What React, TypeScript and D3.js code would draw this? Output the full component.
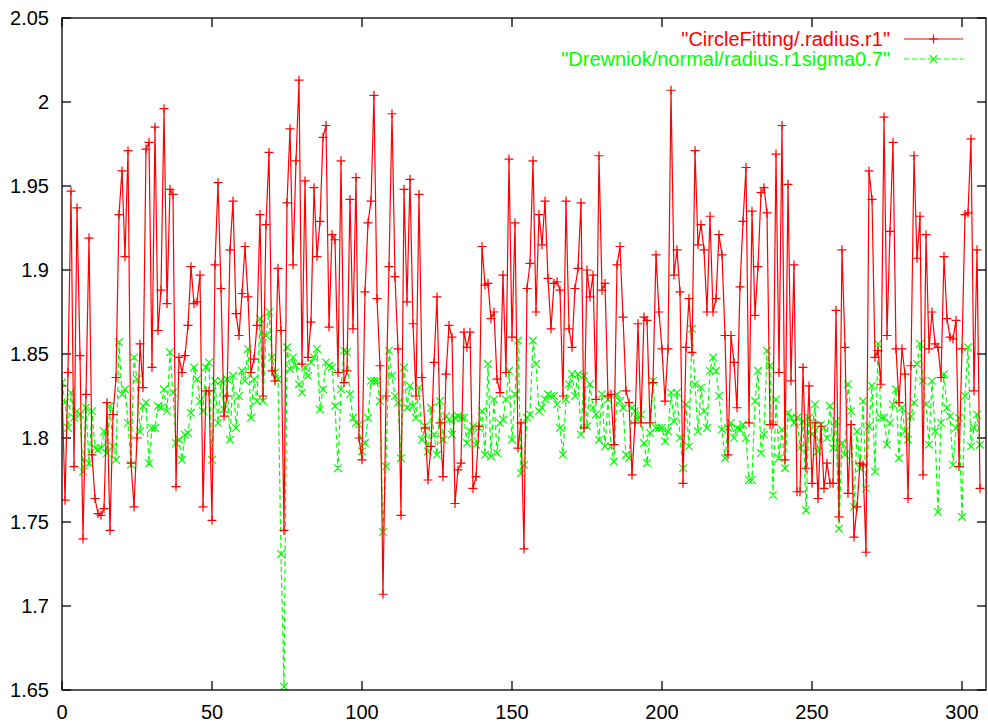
import React from "react";
import * as d3 from "d3";

const circleFitting: number[] = [
  1.831, 1.763, 1.839, 1.947, 1.783, 1.937, 1.849, 1.740, 1.826, 1.919,
  1.790, 1.764, 1.755, 1.754, 1.758, 1.821, 1.745, 1.814, 1.836, 1.933,
  1.959, 1.908, 1.971, 1.785, 1.759, 1.800, 1.856, 1.830, 1.972, 1.976,
  1.842, 1.985, 1.864, 1.888, 1.996, 1.880, 1.948, 1.945, 1.771, 1.848,
  1.839, 1.849, 1.867, 1.902, 1.880, 1.881, 1.897, 1.759, 1.828, 1.828,
  1.751, 1.903, 1.952, 1.889, 1.813, 1.825, 1.912, 1.941, 1.874, 1.861,
  1.886, 1.914, 1.884, 1.839, 1.847, 1.867, 1.933, 1.825, 1.927, 1.970,
  1.840, 1.834, 1.901, 1.864, 1.745, 1.940, 1.984, 1.903, 1.965, 2.013,
  1.844, 1.953, 1.848, 1.869, 1.949, 1.908, 1.929, 1.979, 1.986, 1.866,
  1.921, 1.918, 1.839, 1.965, 1.833, 1.840, 1.942, 1.865, 1.955, 1.800,
  1.787, 1.887, 1.928, 1.941, 2.004, 1.883, 1.843, 1.707, 1.825, 1.902,
  1.993, 1.896, 1.853, 1.754, 1.948, 1.881, 1.954, 1.868, 1.825, 1.945,
  1.836, 1.806, 1.775, 1.795, 1.845, 1.884, 1.809, 1.777, 1.838, 1.867,
  1.860, 1.761, 1.781, 1.785, 1.863, 1.854, 1.863, 1.770, 1.777, 1.807,
  1.914, 1.891, 1.892, 1.871, 1.875, 1.835, 1.827, 1.897, 1.839, 1.966,
  1.860, 1.928, 1.794, 1.809, 1.734, 1.889, 1.904, 1.965, 1.875, 1.933,
  1.915, 1.941, 1.895, 1.865, 1.892, 1.893, 1.888, 1.825, 1.941, 1.865,
  1.854, 1.889, 1.901, 1.940, 1.806, 1.900, 1.884, 1.897, 1.823, 1.968,
  1.888, 1.892, 1.825, 1.826, 1.796, 1.903, 1.914, 1.872, 1.828, 1.821,
  1.778, 1.809, 1.868, 1.809, 1.872, 1.870, 1.809, 1.833, 1.909, 1.875,
  1.853, 1.822, 1.853, 2.007, 1.897, 1.912, 1.887, 1.773, 1.854, 1.883,
  1.851, 1.971, 1.915, 1.927, 1.912, 1.875, 1.932, 1.875, 1.883, 1.921,
  1.909, 1.861, 1.790, 1.861, 1.845, 1.818, 1.890, 1.929, 1.961, 1.809,
  1.935, 1.873, 1.902, 1.946, 1.949, 1.934, 1.808, 1.808, 1.969, 1.839,
  1.986, 1.787, 1.951, 1.834, 1.903, 1.768, 1.768, 1.842, 1.782, 1.831,
  1.773, 1.809, 1.764, 1.807, 1.770, 1.785, 1.773, 1.773, 1.876, 1.753,
  1.912, 1.854, 1.767, 1.808, 1.741, 1.759, 1.785, 1.784, 1.732, 1.959,
  1.942, 1.848, 1.852, 1.832, 1.991, 1.861, 1.923, 1.976, 1.853, 1.821,
  1.853, 1.838, 1.764, 1.843, 1.968, 1.907, 1.932, 1.778, 1.921, 1.853,
  1.875, 1.856, 1.854, 1.836, 1.908, 1.871, 1.860, 1.859, 1.870, 1.783,
  1.853, 1.933, 1.934, 1.978, 1.828, 1.912, 1.770,
];

const drewniok: number[] = [
  1.833, 1.821, 1.806, 1.827, 1.812, 1.816, 1.814, 1.780, 1.818, 1.785,
  1.816, 1.794, 1.793, 1.794, 1.804, 1.791, 1.819, 1.795, 1.787, 1.857,
  1.826, 1.829, 1.809, 1.784, 1.848, 1.835, 1.804, 1.819, 1.821, 1.785,
  1.806, 1.806, 1.819, 1.818, 1.829, 1.816, 1.851, 1.827, 1.797, 1.799,
  1.787, 1.802, 1.803, 1.815, 1.842, 1.835, 1.822, 1.816, 1.842, 1.845,
  1.787, 1.834, 1.809, 1.834, 1.817, 1.835, 1.799, 1.837, 1.806, 1.825,
  1.840, 1.834, 1.853, 1.812, 1.835, 1.822, 1.871, 1.822, 1.861, 1.875,
  1.848, 1.839, 1.835, 1.731, 1.652, 1.854, 1.841, 1.848, 1.843, 1.832,
  1.827, 1.842, 1.837, 1.845, 1.848, 1.853, 1.817, 1.829, 1.845, 1.843,
  1.842, 1.819, 1.782, 1.829, 1.852, 1.851, 1.826, 1.812, 1.809, 1.808,
  1.792, 1.797, 1.812, 1.834, 1.834, 1.834, 1.822, 1.744, 1.783, 1.852,
  1.837, 1.825, 1.821, 1.788, 1.842, 1.818, 1.831, 1.819, 1.812, 1.830,
  1.799, 1.807, 1.792, 1.818, 1.802, 1.790, 1.822, 1.799, 1.813, 1.811,
  1.802, 1.812, 1.813, 1.812, 1.812, 1.797, 1.804, 1.807, 1.796, 1.806,
  1.816, 1.790, 1.844, 1.789, 1.823, 1.791, 1.809, 1.811, 1.823, 1.840,
  1.799, 1.826, 1.858, 1.779, 1.784, 1.812, 1.814, 1.858, 1.844, 1.816,
  1.818, 1.823, 1.826, 1.825, 1.825, 1.820, 1.806, 1.790, 1.823, 1.832,
  1.838, 1.825, 1.838, 1.802, 1.837, 1.807, 1.832, 1.818, 1.814, 1.799,
  1.826, 1.795, 1.823, 1.795, 1.786, 1.826, 1.822, 1.818, 1.790, 1.788,
  1.818, 1.816, 1.811, 1.814, 1.797, 1.785, 1.803, 1.834, 1.806, 1.806,
  1.806, 1.798, 1.804, 1.827, 1.810, 1.827, 1.800, 1.782, 1.820, 1.795,
  1.865, 1.832, 1.804, 1.830, 1.816, 1.806, 1.840, 1.848, 1.840, 1.825,
  1.805, 1.788, 1.806, 1.809, 1.800, 1.806, 1.805, 1.808, 1.800, 1.775,
  1.775, 1.822, 1.840, 1.791, 1.802, 1.852, 1.843, 1.766, 1.823, 1.788,
  1.805, 1.782, 1.815, 1.812, 1.809, 1.812, 1.794, 1.810, 1.757, 1.812,
  1.802, 1.820, 1.792, 1.808, 1.806, 1.800, 1.819, 1.794, 1.810, 1.746,
  1.797, 1.790, 1.832, 1.816, 1.759, 1.804, 1.782, 1.822, 1.770, 1.807,
  1.831, 1.780, 1.856, 1.812, 1.812, 1.796, 1.809, 1.820, 1.829, 1.788,
  1.818, 1.804, 1.799, 1.813, 1.821, 1.844, 1.856, 1.834, 1.820, 1.796,
  1.834, 1.804, 1.756, 1.809, 1.838, 1.818, 1.813, 1.784, 1.806, 1.812,
  1.753, 1.825, 1.854, 1.795, 1.806, 1.814, 1.796,
];

const xTicks: number[] = [0, 50, 100, 150, 200, 250, 300];
const yTicks: number[] = [1.65, 1.7, 1.75, 1.8, 1.85, 1.9, 1.95, 2, 2.05];
const seriesLabels: string[] = [
  '"CircleFitting/.radius.r1"',
  '"Drewniok/normal/radius.r1sigma0.7"',
];

const W = 988;
const H = 726;
const M = { left: 62, right: 986, top: 18, bottom: 690 };
const FONT = "'Liberation Sans', Arial, Helvetica, sans-serif";
const FS = 20;
const RED = "#ff0000";
const GREEN = "#00ff00";

export default function App() {
  const x = d3.scaleLinear().domain([0, 308]).range([M.left, M.right]);
  const y = d3.scaleLinear().domain([1.65, 2.05]).range([M.bottom, M.top]);

  const line = d3
    .line<number>()
    .x((_, i) => x(i))
    .y((d) => y(d));

  const plus = (cx: number, cy: number, r: number) =>
    `M${cx - r},${cy}H${cx + r}M${cx},${cy - r}V${cy + r}`;
  const cross = (cx: number, cy: number, r: number) =>
    `M${cx - r},${cy - r}L${cx + r},${cy + r}M${cx - r},${cy + r}L${cx + r},${cy - r}`;

  const redMarks = circleFitting.map((d, i) => plus(x(i), y(d), 4.5)).join("");
  const greenMarks = drewniok.map((d, i) => cross(x(i), y(d), 3.8)).join("");

  const tickLen = 9;
  const legX1 = 904;
  const legX2 = 963;
  const legMid = (legX1 + legX2) / 2;
  const legY = [39, 59];

  return (
    <svg
      width={W}
      height={H}
      style={{ position: "absolute", left: 0, top: 0, background: "#fff" }}
      fontFamily={FONT}
    >
      <rect x={0} y={0} width={W} height={H} fill="#fff" />
      <defs>
        <clipPath id="plotClip">
          <rect x={M.left} y={M.top} width={M.right - M.left} height={M.bottom - M.top} />
        </clipPath>
      </defs>

      <g stroke="#000" strokeWidth={1.3}>
        {yTicks.map((t) => (
          <g key={"yt" + t}>
            <line x1={M.left} x2={M.left + tickLen} y1={y(t)} y2={y(t)} />
            <line x1={M.right} x2={M.right - tickLen} y1={y(t)} y2={y(t)} />
          </g>
        ))}
        {xTicks.map((t) => (
          <g key={"xt" + t}>
            <line x1={x(t)} x2={x(t)} y1={M.bottom} y2={M.bottom - tickLen} />
            <line x1={x(t)} x2={x(t)} y1={M.top} y2={M.top + tickLen} />
          </g>
        ))}
      </g>

      <g fontSize={FS} fill="#000">
        {yTicks.map((t) => (
          <text key={"yl" + t} x={49} y={y(t) + 7} textAnchor="end">
            {String(t)}
          </text>
        ))}
        {xTicks.map((t) => (
          <text key={"xl" + t} x={x(t)} y={719} textAnchor="middle">
            {String(t)}
          </text>
        ))}
      </g>

      <g clipPath="url(#plotClip)">
        <path
          d={line(drewniok) || ""}
          fill="none"
          stroke={GREEN}
          strokeWidth={1.2}
          strokeDasharray="5,3"
        />
        <path d={greenMarks} fill="none" stroke={GREEN} strokeWidth={1.2} />
        <path d={line(circleFitting) || ""} fill="none" stroke={RED} strokeWidth={1.2} />
        <path d={redMarks} fill="none" stroke={RED} strokeWidth={1.2} />
      </g>

      <g fontSize={FS}>
        <text x={890} y={legY[0] + 7} textAnchor="end" fill={RED}>
          {seriesLabels[0]}
        </text>
        <line x1={legX1} x2={legX2} y1={legY[0]} y2={legY[0]} stroke={RED} strokeWidth={1.2} />
        <path d={plus(legMid, legY[0], 4.5)} stroke={RED} strokeWidth={1.2} />
        <text x={890} y={legY[1] + 7} textAnchor="end" fill={GREEN}>
          {seriesLabels[1]}
        </text>
        <line
          x1={legX1}
          x2={legX2}
          y1={legY[1]}
          y2={legY[1]}
          stroke={GREEN}
          strokeWidth={1.2}
          strokeDasharray="5,3"
        />
        <path d={cross(legMid, legY[1], 3.8)} stroke={GREEN} strokeWidth={1.2} />
      </g>

      <rect
        x={M.left}
        y={M.top}
        width={M.right - M.left}
        height={M.bottom - M.top}
        fill="none"
        stroke="#000"
        strokeWidth={1.3}
      />
    </svg>
  );
}
